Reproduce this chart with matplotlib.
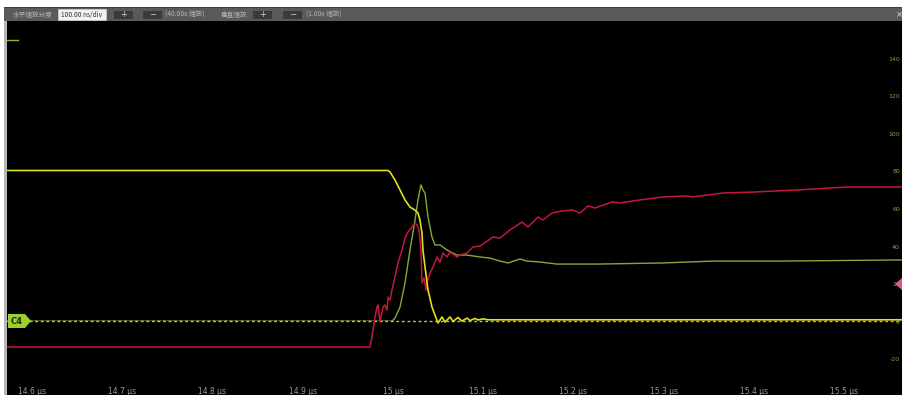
import matplotlib
matplotlib.use("Agg")
import matplotlib.pyplot as plt
from matplotlib.patches import Rectangle, Polygon
from matplotlib.lines import Line2D
import numpy as np

plt.rcParams['font.family'] = ['Noto Sans CJK SC', 'DejaVu Sans']

# ---- waveform data (time in µs, value in display units) ----
yellow_t = [14.5723, 14.9945, 14.9967, 15.0022, 15.0078, 15.0133, 15.0188, 15.0244,
            15.0277, 15.0299, 15.0321, 15.0332, 15.0355, 15.0388, 15.0432, 15.0465,
            15.0499, 15.0543, 15.0576, 15.0632, 15.0665, 15.0720, 15.0764, 15.0820,
            15.0853, 15.0909, 15.0942, 15.0997, 15.1053, 15.5640]
yellow_v = [80.8, 80.8, 80.0, 75.7, 70.4, 65.1, 61.3, 59.7,
            58.1, 54.4, 47.5, 38.4, 29.3, 17.1, 8.0, 3.7,
            -0.5, 2.7, 0.0, 2.7, 0.3, 2.4, 0.5, 2.1,
            0.8, 1.9, 1.1, 1.7, 1.2, 1.2]

green_t = [14.5723, 14.9989, 15.0022, 15.0078, 15.0133, 15.0188, 15.0244, 15.0277,
           15.0310, 15.0332, 15.0355, 15.0388, 15.0432, 15.0465, 15.0521, 15.0598,
           15.0709, 15.0820, 15.0964, 15.1075, 15.1186, 15.1274, 15.1407, 15.1485,
           15.1629, 15.1817, 15.2260, 15.2992, 15.3546, 15.4288, 15.5618, 15.5640]
green_v = [0.5, 0.5, 2.1, 8.0, 20.8, 38.4, 54.4, 65.1,
           73.1, 70.4, 68.8, 56.0, 45.3, 41.1, 41.1, 38.4,
           35.7, 35.7, 34.7, 34.1, 32.5, 31.5, 33.6, 32.5,
           32.0, 30.9, 30.9, 31.5, 32.5, 32.5, 33.1, 33.1]

red_t = [14.5723, 14.9745, 14.9767, 14.9801, 14.9823, 14.9834, 14.9856, 14.9889,
         14.9911, 14.9934, 14.9945, 14.9967, 14.9989, 15.0022, 15.0055, 15.0100,
         15.0133, 15.0166, 15.0211, 15.0244, 15.0266, 15.0288, 15.0310, 15.0321,
         15.0343, 15.0366, 15.0377, 15.0410, 15.0443, 15.0488, 15.0521, 15.0554,
         15.0598, 15.0632, 15.0709, 15.0742, 15.0820, 15.0886, 15.0964, 15.1108,
         15.1186, 15.1296, 15.1429, 15.1496, 15.1607, 15.1662, 15.1762, 15.1873,
         15.1994, 15.2072, 15.2161, 15.2238, 15.2427, 15.2515, 15.2737, 15.2992,
         15.3258, 15.3324, 15.3656, 15.3989, 15.4476, 15.5030, 15.5640]
red_v = [-13.3, -13.3, -8.0, 2.7, 8.0, 9.1, 0.0, 8.0,
         9.1, 6.4, 13.3, 11.7, 17.1, 24.0, 31.5, 38.4,
         44.8, 48.0, 50.7, 52.8, 51.7, 49.1, 38.4, 20.8,
         23.5, 17.1, 21.3, 26.1, 29.3, 34.7, 32.0, 36.8,
         34.7, 37.3, 34.7, 35.7, 36.8, 40.0, 40.5, 45.3,
         44.8, 49.1, 53.3, 50.7, 56.0, 54.4, 58.1, 59.2,
         59.7, 58.1, 61.9, 60.8, 64.0, 63.5, 65.1, 66.7,
         67.2, 66.7, 68.8, 69.3, 70.4, 72.0, 72.0]

x_ticks = [14.6, 14.7, 14.8, 14.9, 15.0, 15.1, 15.2, 15.3, 15.4, 15.5]
x_tick_labels = ["14.6 µs", "14.7 µs", "14.8 µs", "14.9 µs", "15 µs",
                 "15.1 µs", "15.2 µs", "15.3 µs", "15.4 µs", "15.5 µs"]
y_ticks = [140, 120, 100, 80, 60, 40, 20, 0, -20]
y_tick_labels = ["140", "120", "100", "80", "60", "40", "20", "0", "-20"]

ref_level = 0.5  # C4 reference marker level

W, H = 902, 395
fig = plt.figure(figsize=(W / 100, H / 100), dpi=100, facecolor='white')

def fx(px):
    return px / W

def fy(py):
    return 1 - py / H

# ---- scope screen ----
ax = fig.add_axes([fx(7), 0, fx(W - 7), (H - 21) / H])
ax.set_facecolor('black')
ax.set_xlim(14.5723, 15.5640)
ax.set_ylim(-38.9, 160.5)
for s in ax.spines.values():
    s.set_visible(False)
ax.set_xticks([])
ax.set_yticks([])

# dotted graticule
xstep = 0.1
ystep = 20
grid_col = '#3a3a3a'
xs_all = np.arange(14.5, 15.6001, xstep)
ys_all = np.arange(-40, 161, ystep)
for xv in xs_all:
    yy = np.arange(-40, 161, ystep / 5)
    ax.scatter(np.full_like(yy, xv, dtype=float), yy, s=0.5, c=grid_col, marker='s', lw=0, zorder=1)
for yv in ys_all:
    xx = np.arange(14.5, 15.6001, xstep / 5)
    ax.scatter(xx, np.full_like(xx, yv, dtype=float), s=0.5, c=grid_col, marker='s', lw=0, zorder=1)

# traces
ax.plot(green_t, green_v, color='#86a83a', lw=1.0, zorder=3)
# reference dashed line drawn over the green baseline
ax.plot([14.5723, 15.5640], [ref_level, ref_level], color='#b4c86a', lw=1.0,
        ls=(0, (2, 2)), gapcolor='black', zorder=3.5)
ax.plot(red_t, red_v, color='#c4173c', lw=1.1, zorder=4)
ax.plot(yellow_t, yellow_v, color='#e3df1e', lw=1.2, zorder=5)

# tick labels drawn inside the screen
for xv, lab in zip(x_ticks, x_tick_labels):
    ax.text(xv, -36.8, lab, color='#9a9a9a', fontsize=5.5, ha='center', va='center',
            family=['DejaVu Sans'], zorder=6)
ytr = matplotlib.transforms.blended_transform_factory(fig.transFigure, ax.transData)
for yv, lab in zip(y_ticks, y_tick_labels):
    ax.text(fx(900), yv, lab, color='#86a040', fontsize=4.5, ha='right', va='center',
            transform=ytr, family=['DejaVu Sans'], zorder=6)

# C4 channel tag on the left
tag = Polygon([[fx(8), fy(314)], [fx(25), fy(314)], [fx(31), fy(321)], [fx(25), fy(328)],
               [fx(8), fy(328)]], closed=True, transform=fig.transFigure,
              facecolor='#9bd12e', edgecolor='none', zorder=10)
fig.patches.append(tag)
fig.text(fx(17), fy(321), "C4", color='#1e2a08', fontsize=6, ha='center', va='center',
         family=['DejaVu Sans'], fontweight='bold', zorder=12)

# right side marker
mk = Polygon([[fx(895), fy(284)], [fx(902), fy(278)], [fx(902), fy(290)]], closed=True,
             transform=fig.transFigure, facecolor='#e35a78', edgecolor='none', zorder=10)
fig.patches.append(mk)

# small marker at top left
fig.add_artist(Line2D([fx(5), fx(18)], [fy(40), fy(40)], color='#b2a722', lw=1.0))

# left border strip
fig.patches.append(Rectangle((fx(4), 0), fx(3), fy(7), transform=fig.transFigure,
                             facecolor='#b5b5b5', edgecolor='none', zorder=9))

# ---- toolbar ----
fig.patches.append(Rectangle((fx(4), fy(21)), fx(W - 4), (21 - 7) / H, transform=fig.transFigure,
                             facecolor='#595a59', edgecolor='none', zorder=9))
fig.patches.append(Rectangle((fx(4), fy(8)), fx(W - 4), 1 / H, transform=fig.transFigure,
                             facecolor='#3e3f3e', edgecolor='none', zorder=9))

tb_y = fy(14.5)
tcol = '#b4b4b4'
fig.text(fx(13), tb_y, "水平缩放分度", color=tcol, fontsize=4.8, ha='left', va='center', zorder=11)
fig.patches.append(Rectangle((fx(58), fy(19.5)), fx(48), 10 / H, transform=fig.transFigure,
                             facecolor='#f2f2f2', edgecolor='#cfcfcf', lw=0.5, zorder=10))
fig.text(fx(82), tb_y, "100.00 ns/div", color='#333333', fontsize=4.8, ha='center', va='center',
         zorder=11)
for bx, sym in [(114, "+"), (143, "−"), (253, "+"), (283, "−")]:
    fig.patches.append(Rectangle((fx(bx), fy(18.5)), fx(19), 8 / H, transform=fig.transFigure,
                                 facecolor='#3a3a3a', edgecolor='none', zorder=10))
    fig.text(fx(bx + 9.5), tb_y, sym, color='#d0d0d0', fontsize=6, ha='center', va='center',
             zorder=11, family=['DejaVu Sans'])
fig.text(fx(165), tb_y, "(40.00x 缩放)", color=tcol, fontsize=4.8, ha='left', va='center', zorder=11)
fig.text(fx(221), tb_y, "垂直缩放", color=tcol, fontsize=4.8, ha='left', va='center', zorder=11)
fig.text(fx(306), tb_y, "(1.00x 缩放)", color=tcol, fontsize=4.8, ha='left', va='center', zorder=11)
fig.text(fx(899), tb_y, "×", color='#d8d8d8', fontsize=6, ha='center', va='center', zorder=11,
         family=['DejaVu Sans'])

fig.savefig("out.png", dpi=100, facecolor='white')
